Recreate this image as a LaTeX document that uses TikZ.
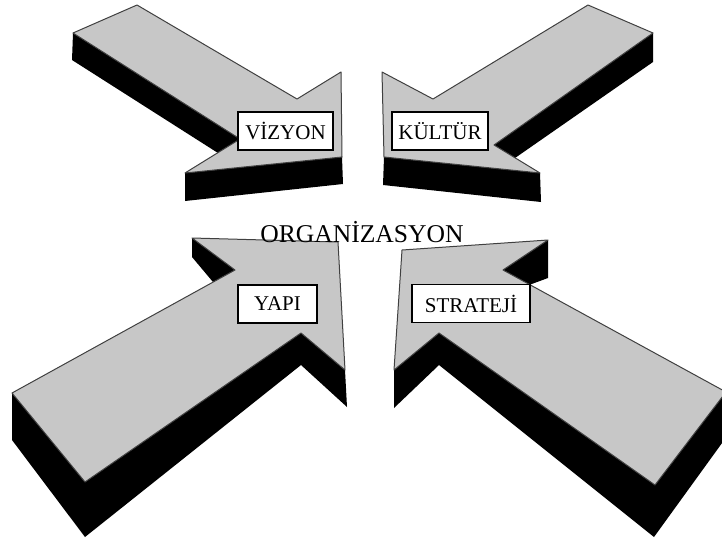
\documentclass[tikz,border=0pt]{standalone}
\usepackage{fontspec}
\setmainfont{Liberation Serif}
\usetikzlibrary{positioning}

\begin{document}
\begin{tikzpicture}[
    x=0.5pt, y=-0.5pt,
    side/.style={
        fill=black
    },
    face/.style={
        fill=black!22, draw=black!75, line width=0.5pt,
        line join=round
    },
    lbl/.style={
        draw=black, line width=0.7pt, fill=white,
        font=\fontsize{10.5}{12}\selectfont,
        inner sep=2pt, minimum height=19pt
    },
    title/.style={
        font=\fontsize{12.8}{15}\selectfont
    }
]
\useasboundingbox (0,0) rectangle (722,542);
\clip (0,0) rectangle (722,542);

% upper left arrow
\fill[side] (73,33) -- (240,139) -- (218,153) -- (72,60) -- cycle;
\fill[side] (185,173) -- (342,157) -- (343,184) -- (185,201) -- cycle;
\filldraw[face] (73,33) -- (137,5) -- (297,99) -- (341,72) -- (342,157)
    -- (185,173) -- (240,139) -- cycle;

% upper right arrow
\fill[side] (653,33) -- (494,145) -- (515,158) -- (653,62) -- cycle;
\fill[side] (384,157) -- (540,173) -- (541,202) -- (383,185) -- cycle;
\filldraw[face] (653,33) -- (588,5) -- (433,99) -- (382,72) -- (384,157)
    -- (540,173) -- (494,145) -- cycle;

% lower left arrow
\fill[side] (192,238) -- (235,270) -- (213,282) -- (192,257) -- cycle;
\fill[side] (12,393) -- (12,440) -- (85,537) -- (301,365) -- (347,407)
    -- (345,370) -- (301,333) -- (85,482) -- cycle;
\filldraw[face] (12,393) -- (235,270) -- (192,238) -- (338,242) -- (345,370)
    -- (301,333) -- (85,482) -- cycle;

% lower right arrow
\fill[side] (503,270) -- (548,240) -- (548,278) -- (529,285) -- cycle;
\fill[side] (394,370) -- (394,408) -- (439,365) -- (654,537) -- (730,432)
    -- (726,392) -- (655,485) -- (439,333) -- cycle;
\filldraw[face] (402,250) -- (548,240) -- (503,270) -- (726,392) -- (655,485)
    -- (439,333) -- (394,370) -- cycle;

\node[lbl, minimum width=47.5pt] (vizyon) at (285.5,131) {VİZYON};
\node[lbl, minimum width=48pt] (kultur) at (440,131) {KÜLTÜR};
\node[lbl, minimum width=39.5pt] (yapi) at (277.5,304) {YAPI};
\node[lbl, minimum width=59pt] (strateji) at (471,303.5) {STRATEJİ};

\node[title] (org) at (362,232) {ORGANİZASYON};

\end{tikzpicture}
\end{document}
